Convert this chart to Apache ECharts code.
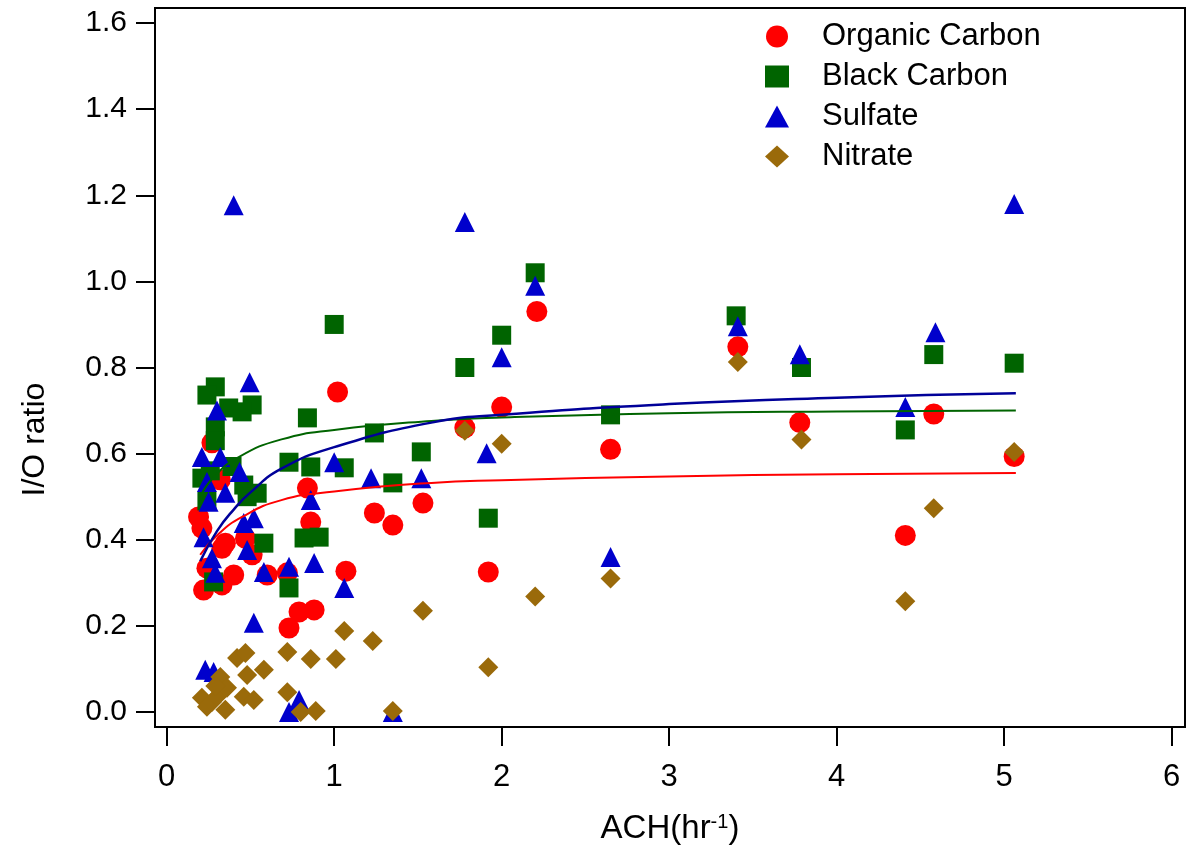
<!DOCTYPE html>
<html>
<head>
<meta charset="utf-8">
<script src="https://cdn.jsdelivr.net/npm/echarts@6/dist/echarts.min.js"></script>
<style>
  html, body { margin: 0; padding: 0; background: #fff; }
  #chart { width: 1189px; height: 855px; }
</style>
</head>
<body>
<div id="chart"></div>
<script>
// I/O ratio vs ACH
const organicCarbon = [
  [0.19, 0.453], [0.21, 0.427], [0.22, 0.283], [0.24, 0.334], [0.33, 0.295],
  [0.40, 0.318], [0.33, 0.38], [0.35, 0.392], [0.47, 0.403], [0.51, 0.365],
  [0.32, 0.539], [0.27, 0.625], [0.60, 0.318], [0.72, 0.323], [0.73, 0.195],
  [0.79, 0.232], [0.88, 0.237], [0.84, 0.52], [0.86, 0.441], [1.07, 0.327],
  [1.02, 0.743], [1.24, 0.462], [1.35, 0.434], [1.53, 0.485], [1.78, 0.66],
  [1.92, 0.325], [2.0, 0.708], [2.21, 0.93], [2.65, 0.61], [3.41, 0.848],
  [3.78, 0.672], [4.41, 0.41], [4.58, 0.692], [5.06, 0.593]
];
const blackCarbon = [
  [0.29, 0.755], [0.24, 0.736], [0.51, 0.713], [0.45, 0.697], [0.37, 0.706],
  [0.29, 0.662], [0.29, 0.63], [0.21, 0.543], [0.26, 0.56], [0.39, 0.57],
  [0.46, 0.527], [0.54, 0.508], [0.48, 0.50], [0.24, 0.49], [0.58, 0.392],
  [0.28, 0.302], [0.73, 0.288], [0.73, 0.58], [0.86, 0.569], [0.84, 0.683],
  [1.06, 0.567], [1.24, 0.648], [1.35, 0.532], [1.52, 0.604], [0.82, 0.404],
  [0.91, 0.406], [1.0, 0.9], [1.78, 0.8], [1.92, 0.45], [2.0, 0.875],
  [2.2, 1.02], [2.65, 0.69], [3.4, 0.92], [3.79, 0.80], [4.41, 0.655],
  [4.58, 0.83], [5.06, 0.81]
];
const sulfate = [
  [0.40, 1.177], [0.495, 0.766], [0.30, 0.70], [0.21, 0.592], [0.32, 0.592],
  [0.435, 0.557], [0.24, 0.534], [0.35, 0.509], [0.25, 0.488], [0.52, 0.45],
  [0.46, 0.439], [0.22, 0.406], [0.48, 0.376], [0.27, 0.357], [0.29, 0.323],
  [0.58, 0.325], [0.73, 0.337], [0.52, 0.207], [0.23, 0.098], [0.28, 0.093],
  [0.73, 0.0], [0.79, 0.028], [1.35, 0.0], [0.88, 0.346], [1.06, 0.288],
  [0.86, 0.492], [1.0, 0.58], [1.22, 0.543], [1.52, 0.543], [1.78, 1.138],
  [1.91, 0.601], [2.0, 0.824], [2.2, 0.99], [2.65, 0.36], [3.41, 0.896],
  [3.78, 0.831], [4.41, 0.708], [4.59, 0.882], [5.06, 1.18]
];
const nitrate = [
  [0.21, 0.033], [0.24, 0.012], [0.27, 0.023], [0.30, 0.035], [0.32, 0.081],
  [0.36, 0.056], [0.35, 0.005], [0.29, 0.06], [0.42, 0.125], [0.47, 0.137],
  [0.48, 0.086], [0.46, 0.035], [0.52, 0.028], [0.58, 0.098], [0.72, 0.139],
  [0.72, 0.046], [0.80, 0.0], [0.89, 0.002], [0.86, 0.123], [1.01, 0.123],
  [1.06, 0.188], [1.23, 0.165], [1.35, 0.002], [1.53, 0.235], [1.78, 0.653],
  [1.92, 0.104], [2.0, 0.623], [2.2, 0.268], [2.65, 0.31], [3.41, 0.813],
  [3.79, 0.633], [4.41, 0.257], [4.58, 0.473], [5.06, 0.604]
];

// fit curves, points
const fitOC = [[0.2, 0.365], [0.3, 0.41], [0.45, 0.453], [0.685, 0.492], [1.0, 0.512],
  [1.58, 0.532], [2.0, 0.538], [3.0, 0.547], [4.0, 0.552], [5.07, 0.555]];
const fitBC = [[0.2, 0.50], [0.28, 0.545], [0.43, 0.592], [0.685, 0.633], [1.0, 0.655],
  [1.58, 0.676], [2.0, 0.684], [3.0, 0.694], [4.0, 0.698], [5.07, 0.70]];
const fitSO4 = [[0.2, 0.35], [0.3, 0.42], [0.4, 0.47], [0.5, 0.51], [0.685, 0.565],
  [1.0, 0.615], [1.58, 0.672], [2.0, 0.69], [3.0, 0.715], [4.0, 0.73], [5.07, 0.74]];

const xTicks = [0, 1, 2, 3, 4, 5, 6];
const yTicks = [0, 0.2, 0.4, 0.6, 0.8, 1.0, 1.2, 1.4, 1.6];

const chart = echarts.init(document.getElementById('chart'));

const font = '"Liberation Sans", Arial, sans-serif';

chart.setOption({
  animation: false,
  backgroundColor: '#fff',
  grid: {
    left: 155, right: 4, top: 8, bottom: 128,
    show: true, borderColor: '#000', borderWidth: 2, backgroundColor: 'transparent'
  },
  legend: {
    orient: 'vertical',
    left: 760, top: 16,
    itemWidth: 24, itemHeight: 22,
    itemGap: 9,
    textStyle: { fontFamily: font, fontSize: 31, color: '#000', lineHeight: 30, padding: [0, 0, 0, 28] },
    data: [
      { name: 'Organic Carbon', icon: 'circle' },
      { name: 'Black Carbon', icon: 'rect' },
      { name: 'Sulfate', icon: 'triangle' },
      { name: 'Nitrate', icon: 'diamond' }
    ]
  },
  xAxis: {
    type: 'value', min: -0.07, max: 6.08,
    name: '{a|ACH(hr}{s|-1}{a|)}',
    nameLocation: 'middle', nameGap: 85,
    nameTextStyle: {
      rich: {
        a: { fontFamily: font, fontSize: 33, color: '#000' },
        s: { fontFamily: font, fontSize: 20, color: '#000', verticalAlign: 'top', padding: [0, 0, 14, 0] }
      }
    },
    axisLine: { onZero: false, lineStyle: { color: '#000', width: 2 } },
    axisTick: { customValues: xTicks, length: 19, lineStyle: { color: '#000', width: 2 } },
    axisLabel: { customValues: xTicks, margin: 35, fontFamily: font, fontSize: 31, color: '#000' },
    splitLine: { show: false }
  },
  yAxis: {
    type: 'value', min: -0.035, max: 1.635,
    name: 'I/O ratio',
    nameLocation: 'middle', nameGap: 104,
    nameTextStyle: { fontFamily: font, fontSize: 32, color: '#000', padding: [0, 144, 0, 0] },
    axisLine: { onZero: false, lineStyle: { color: '#000', width: 2 } },
    axisTick: { customValues: yTicks, length: 19, lineStyle: { color: '#000', width: 2 } },
    axisLabel: {
      customValues: yTicks, margin: 28, fontFamily: font, fontSize: 30, color: '#000',
      formatter: v => v.toFixed(1)
    },
    splitLine: { show: false }
  },
  series: [
    { name: 'Organic Carbon', type: 'scatter', symbol: 'circle', symbolSize: 21,
      itemStyle: { color: '#ff0000', opacity: 1 }, data: organicCarbon, z: 2 },
    { name: 'Black Carbon', type: 'scatter', symbol: 'rect', symbolSize: 19,
      itemStyle: { color: '#006400', opacity: 1 }, data: blackCarbon, z: 3 },
    { name: 'Sulfate', type: 'scatter', symbol: 'triangle', symbolSize: 20,
      itemStyle: { color: '#0000cc', opacity: 1 }, data: sulfate, z: 4 },
    { name: 'Nitrate', type: 'scatter', symbol: 'diamond', symbolSize: 20,
      itemStyle: { color: '#9a6a0a', opacity: 1 }, data: nitrate, z: 5 },
    { type: 'line', data: fitOC, smooth: true, showSymbol: false, silent: true, z: 6,
      lineStyle: { color: '#ff0000', width: 2 } },
    { type: 'line', data: fitBC, smooth: true, showSymbol: false, silent: true, z: 6,
      lineStyle: { color: '#006400', width: 2 } },
    { type: 'line', data: fitSO4, smooth: true, showSymbol: false, silent: true, z: 6,
      lineStyle: { color: '#000099', width: 2.5 } }
  ]
});
</script>
</body>
</html>
